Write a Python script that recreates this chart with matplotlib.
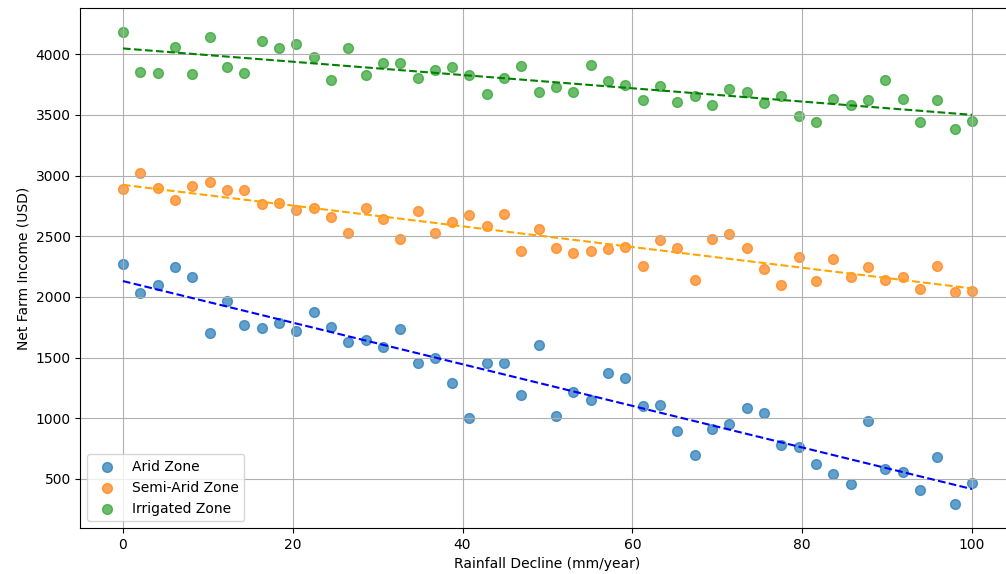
import numpy as np
import matplotlib
matplotlib.use("Agg")
import matplotlib.pyplot as plt

# Rainfall decline (mm/year), 50 evenly spaced samples
rainfall_decline = np.linspace(0, 100, 50)

arid_income = [
    2273, 2036, 2096, 2248, 2163, 1702, 1964, 1769, 1744, 1788,
    1719, 1879, 1752, 1625, 1642, 1588, 1733, 1451, 1492, 1289,
    1001, 1451, 1451, 1188, 1604, 1018, 1212, 1147, 1374, 1330,
    1103, 1111, 892, 697, 908, 949, 1086, 1045, 779, 766,
    620, 536, 459, 977, 579, 560, 407, 681, 289, 467,
]
semi_arid_income = [
    2888, 3022, 2896, 2795, 2915, 2945, 2885, 2885, 2762, 2770,
    2715, 2734, 2658, 2523, 2734, 2638, 2479, 2710, 2523, 2616,
    2677, 2581, 2685, 2381, 2556, 2405, 2362, 2381, 2392, 2414,
    2255, 2471, 2405, 2142, 2479, 2515, 2405, 2227, 2101, 2329,
    2134, 2312, 2167, 2244, 2140, 2167, 2066, 2252, 2038, 2049,
]
irrigated_income = [
    4187, 3857, 3849, 4063, 3841, 4140, 3898, 3849, 4113, 4052,
    4088, 3975, 3788, 4052, 3832, 3928, 3932, 3808, 3874, 3898,
    3830, 3670, 3808, 3901, 3690, 3728, 3690, 3909, 3783, 3747,
    3621, 3739, 3603, 3660, 3585, 3712, 3687, 3602, 3654, 3489,
    3440, 3629, 3585, 3621, 3788, 3635, 3440, 3626, 3382, 3448,
]

zones = ["Arid Zone", "Semi-Arid Zone", "Irrigated Zone"]
incomes = [arid_income, semi_arid_income, irrigated_income]
fit_colors = ["blue", "orange", "green"]

fig = plt.figure(figsize=(10.06, 5.74), dpi=100)
# right spine sits just past the edge of the picture, as in the reference crop
ax = fig.add_axes([0.080, 0.0801, 0.9284, 0.906])

for name, y in zip(zones, incomes):
    ax.scatter(rainfall_decline, y, s=50, alpha=0.7, label=name)

for y, c in zip(incomes, fit_colors):
    slope, intercept = np.polyfit(rainfall_decline, y, 1)
    ax.plot(rainfall_decline, slope * rainfall_decline + intercept,
            color=c, linestyle="--")

ax.set_xlabel("Rainfall Decline (mm/year)")
ax.set_ylabel("Net Farm Income (USD)")
ax.legend(loc="lower left")
ax.grid(True)

fig.savefig("out.png", dpi=100)
